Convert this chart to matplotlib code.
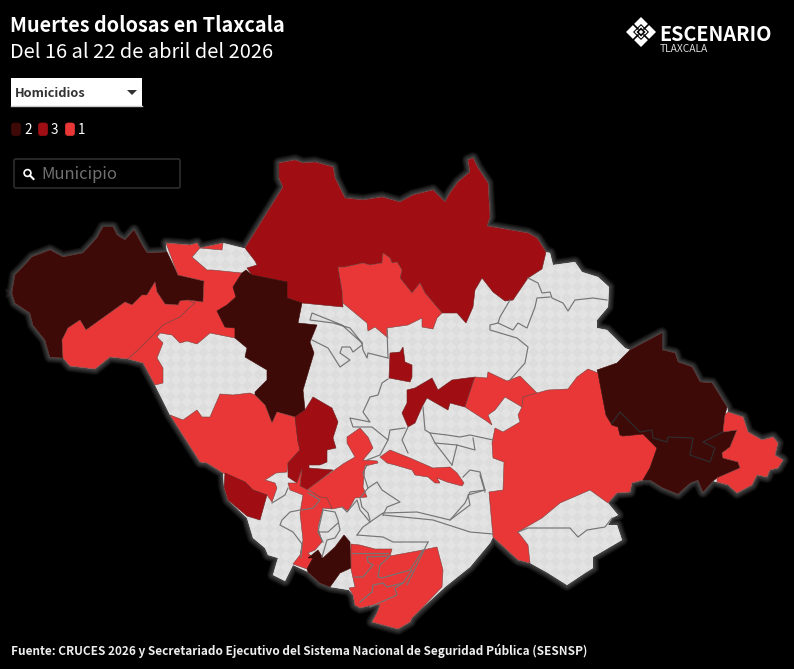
import matplotlib
matplotlib.use("Agg")
import matplotlib.pyplot as plt
import numpy as np
from matplotlib.patches import Polygon, Rectangle, FancyBboxPatch, Circle

plt.rcParams['font.family'] = ['Noto Sans CJK SC', 'DejaVu Sans']

# legend
legend_labels = ["2", "3", "1"]
legend_colors = ["#3d0a08", "#a00e14", "#e83736"]
color_by_class = dict(zip(legend_labels, legend_colors))
edge_by_class = {"2": "#3d0a08", "3": "#6b2020", "1": "#7a4040"}

# outlines, in picture pixels
state_outline = [(12,293),(15,275),(23,267),(32,257),(50,250),(63,257),(83,253),(97,238),(103,227),(113,227),
    (117,235),(125,240),(134,230),(142,245),(147,253),(167,252),(166,243),(190,245),(197,243),(200,248),(223,243),
    (243,248),(245,248),(283,187),(279,178),(279,163),(295,160),(303,163),(315,162),(333,167),(335,178),(345,198),
    (363,200),(382,197),(400,202),(413,195),(433,190),(445,202),(450,193),(458,182),(470,172),(468,160),(473,158),
    (478,168),(488,183),(490,217),(487,226),(528,233),(537,238),(546,252),(550,253),(553,265),(575,262),(582,272),
    (598,277),(609,287),(608,307),(597,320),(597,328),(607,330),(625,348),(630,350),(662,333),(662,350),(675,353),
    (678,362),(692,367),(700,382),(712,383),(727,407),(728,412),(743,417),(748,432),(762,440),(773,437),(778,443),
    (775,455),(783,460),(778,468),(770,470),(767,477),(757,475),(752,485),(737,493),(728,485),(717,482),(713,481),
    (703,492),(698,480),(690,483),(678,494),(663,488),(650,480),(643,480),(632,483),(630,492),(617,493),(608,503),
    (618,515),(612,518),(608,525),(617,525),(622,540),(593,557),(593,568),(585,573),(567,585),(548,573),(530,563),
    (518,560),(493,537),(490,543),(470,567),(445,587),(420,610),(412,618),(410,622),(398,629),(372,622),(377,613),
    (380,605),(373,605),(360,608),(355,605),(353,595),(349,590),(330,587),(320,583),(308,572),(293,565),(285,581),
    (273,575),(278,558),(268,555),(265,548),(253,538),(247,518),(228,500),(224,487),(223,473),(207,463),(200,462),
    (170,415),(155,385),(143,363),(128,359),(110,357),(95,369),(70,366),(63,358),(50,357),(45,340),(33,325),(30,313),
    (15,303)]

muni_nw = [(12,293),(15,275),(23,267),(32,257),(50,250),(63,257),(83,253),(97,238),(103,227),(113,227),(117,235),
    (125,240),(134,230),(142,245),(147,253),(167,252),(178,275),(204,281),(203,302),(188,300),(180,301),(178,305),
    (165,304),(157,292),(155,282),(147,295),(142,295),(132,305),(125,302),(86,330),(80,320),(68,328),(62,340),
    (63,358),(50,357),(45,340),(33,325),(30,313),(15,303)]
muni_w_strip = [(62,340),(68,328),(80,320),(86,330),(125,302),(132,305),(142,295),(147,295),(155,282),(157,292),
    (165,304),(178,305),(180,301),(188,300),(195,303),(187,310),(180,317),(163,325),(148,340),(138,350),(128,359),
    (110,357),(95,369),(70,366),(63,358)]
muni_c = [(166,243),(190,245),(197,243),(200,248),(223,243),(222,250),(200,248),(192,257),(207,270),(212,270),
    (242,273),(233,287),(236,297),(227,305),(217,311),(225,327),(235,328),(235,338),(210,333),(197,344),(187,341),
    (180,343),(172,335),(160,333),(157,337),(163,343),(157,358),(163,368),(163,383),(155,385),(143,363),(128,359),
    (138,350),(148,340),(163,325),(180,317),(187,310),(195,303),(188,300),(203,302),(204,281),(178,275)]
muni_north = [(245,248),(283,187),(279,178),(279,163),(295,160),(303,163),(315,162),(333,167),(335,178),(345,198),
    (363,200),(382,197),(400,202),(413,195),(433,190),(445,202),(450,193),(458,182),(470,172),(468,160),(473,158),
    (478,168),(488,183),(490,217),(487,226),(528,233),(537,238),(546,252),(542,269),(528,278),(513,300),(505,301),
    (493,292),(482,278),(475,290),(473,307),(466,323),(457,313),(442,313),(425,293),(420,283),(412,293),(400,278),
    (402,270),(397,262),(392,263),(390,258),(383,253),(382,263),(370,265),(363,263),(345,267),(338,267),(342,290),
    (343,307),(302,303),(287,298),(287,282),(252,275),(247,268),(257,265),(255,261)]
muni_f = [(338,267),(345,267),(363,263),(370,265),(382,263),(383,253),(390,258),(392,263),(397,262),(402,270),
    (400,278),(412,293),(420,283),(425,293),(442,313),(437,318),(433,329),(422,327),(422,318),(408,325),(387,328),
    (388,338),(375,327),(368,331),(367,323),(343,303),(342,290)]
muni_g = [(246,270),(252,275),(287,282),(287,298),(302,303),(298,323),(317,325),(310,342),(314,353),(303,390),
    (305,410),(295,417),(277,412),(272,423),(265,405),(255,395),(255,392),(267,380),(267,370),(245,357),(247,348),
    (235,338),(235,328),(225,327),(217,311),(227,305),(236,297),(233,287),(242,273)]
muni_h = [(170,415),(183,420),(197,410),(202,417),(210,417),(220,394),(233,395),(250,393),(255,395),(265,405),
    (272,423),(277,412),(295,417),(298,442),(300,450),(288,463),(287,472),(276,473),(265,480),(275,483),(277,488),
    (272,502),(267,495),(253,490),(245,482),(223,473),(207,463),(200,462)]
muni_i = [(225,473),(245,482),(253,490),(267,495),(260,520),(247,516),(228,500),(224,487)]
muni_j = [(313,397),(332,408),(338,422),(333,438),(336,448),(327,450),(327,462),(320,465),(309,465),(309,468),
    (333,470),(307,490),(300,486),(302,469),(297,483),(288,477),(288,463),(300,450),(298,442),(295,417),(305,410)]
muni_l = [(347,437),(360,428),(368,437),(373,448),(363,460),(377,461),(378,463),(365,466),(363,487),(367,497),
    (355,498),(348,511),(342,507),(332,509),(327,498),(320,497),(308,489),(343,464),(355,457),(347,443)]
muni_m = [(288,483),(297,483),(302,469),(300,486),(308,490),(320,497),(327,498),(332,509),(323,508),(318,527),
    (322,542),(315,550),(308,553),(313,558),(307,569),(293,564),(300,555),(303,540),(300,513),(303,495),(290,490)]
muni_n = [(344,535),(350,542),(351,568),(340,573),(330,587),(320,583),(308,572),(307,569),(313,558),(308,558),
    (318,550),(323,558),(335,547)]
muni_o = [(351,544),(360,545),(375,549),(392,549),(390,556),(423,550),(437,547),(443,570),(442,587),(420,610),
    (412,618),(410,622),(398,629),(372,622),(377,613),(380,605),(373,605),(360,608),(355,605),(353,595),(349,588),
    (355,587),(351,569)]
muni_q = [(380,457),(390,450),(410,458),(433,468),(450,467),(457,473),(464,483),(462,486),(447,482),(437,478),
    (440,483),(435,483),(428,477),(415,475),(412,470),(395,465),(387,463)]
muni_t = [(390,353),(400,352),(403,347),(405,362),(412,365),(412,377),(410,382),(389,378)]
muni_v = [(407,390),(415,388),(432,378),(438,390),(452,380),(475,377),(465,407),(450,403),(448,410),(427,398),
    (422,407),(415,423),(408,427),(402,413),(407,403)]
muni_y1 = [(475,377),(487,378),(488,372),(507,381),(520,376),(537,393),(523,397),(522,407),(505,397),(495,410),
    (488,415),(492,425),(485,420),(465,407)]
muni_y2 = [(523,397),(537,393),(548,390),(568,389),(577,377),(588,369),(598,373),(606,415),(612,425),(618,427),
    (620,435),(623,436),(643,434),(657,448),(650,468),(643,480),(632,483),(630,492),(617,493),(608,503),(590,490),
    (560,503),(542,518),(530,525),(518,532),(528,545),(530,563),(518,560),(493,537),(489,492),(503,490),(504,462),
    (493,458),(492,443),(495,428),(503,432),(520,422),(518,415),(522,407)]
muni_z = [(597,370),(617,363),(630,350),(662,333),(662,350),(675,353),(678,362),(692,367),(700,382),(712,383),
    (727,407),(725,415),(723,432),(737,430),(730,447),(722,453),(723,458),(738,462),(740,468),(717,478),(713,481),
    (703,492),(698,480),(690,483),(678,494),(663,488),(650,480),(643,480),(650,468),(657,448),(643,434),(623,436),
    (620,435),(618,427),(612,425),(606,415),(598,373)]
muni_tip = [(725,415),(728,412),(743,417),(748,432),(762,440),(773,437),(778,443),(775,455),(783,460),(778,468),
    (770,470),(767,477),(757,475),(752,485),(737,493),(728,485),(717,482),(717,478),(740,468),(738,462),(723,458),
    (722,453),(730,447),(737,430),(723,432)]

homicide_munis = [
    ("2", muni_nw), ("1", muni_w_strip), ("1", muni_c), ("3", muni_north), ("1", muni_f), ("2", muni_g),
    ("1", muni_h), ("3", muni_i), ("3", muni_j), ("1", muni_l), ("1", muni_m), ("2", muni_n), ("1", muni_o),
    ("1", muni_q), ("3", muni_t), ("3", muni_v), ("1", muni_y1), ("1", muni_y2), ("2", muni_z), ("1", muni_tip),
]

# borders between municipalities
border_lines = [
    [(272,503),(285,495),(288,488)],
    [(302,544),(293,532),(280,525),(282,520),(290,512),(300,510)],
    [(301,557),(302,544)],
    [(323,510),(335,512),(338,520),(340,530),(335,538),(327,540),(322,557)],
    [(323,510),(318,532),(323,542)],
    [(318,532),(328,532),(338,523)],
    [(342,507),(347,512),(357,500),(360,510),(370,522),(383,513),(417,512),(450,520),(470,505),(468,495),(485,490),(480,472),(470,470),(463,477)],
    [(383,515),(433,520),(470,532),(493,534)],
    [(357,535),(383,537),(393,542),(428,542)],
    [(357,535),(363,527),(370,522)],
    [(367,465),(363,473),(368,488),(360,498),(362,507),(368,513),(370,520)],
    [(368,488),(377,482),(382,490),(400,502),(387,507),(383,515)],
    [(485,490),(470,492),(465,503),(450,520)],
    [(518,532),(528,528),(545,528),(570,528),(578,537),(587,530),(605,527),(612,518)],
    [(528,278),(538,283),(542,293),(550,292),(552,298),(563,303),(568,311),(575,300),(593,298),(607,300)],
    [(550,297),(537,298),(535,307),(527,328),(518,323),(513,330),(498,323),(490,325),(490,330),(517,338),(528,347),(525,363),(510,380)],
    [(510,300),(500,317),(498,323)],
    [(388,358),(387,330)],
    [(388,358),(368,353),(367,358),(363,350),(362,343),(350,328),(333,323),(310,320),(312,313),(342,325),(362,343)],
    [(312,340),(328,348),(340,367),(350,360),(340,353),(342,347),(350,347),(353,352),(362,345)],
    [(388,379),(382,383),(378,395),(370,397),(363,412),(370,422),(350,418),(353,427),(372,427),(388,440),(390,430),(405,428)],
    [(408,453),(402,440),(408,427)],
    [(367,460),(380,455),(388,440)],
    [(423,407),(425,430),(430,433),(447,435),(460,437),(470,435),(493,440)],
    [(430,433),(435,443),(452,465)],
    [(435,443),(457,445),(452,465)],
    [(457,445),(475,450),(473,438)],
    [(480,475),(485,492)],
    [(302,510),(313,508),(320,500),(308,493)],
    # south group
    [(352,553),(368,553),(388,553)],
    [(367,557),(368,562),(373,565),(363,577),(355,577)],
    [(367,557),(390,556),(380,565),(378,577),(382,578),(410,570),(423,550)],
    [(360,602),(372,592),(373,585),(383,583),(387,587),(403,583),(412,570)],
    [(403,583),(395,588),(397,595),(370,607)],
    [(428,542),(407,585)],
]
dark_lines = [
    [(612,423),(620,412),(640,432),(652,430),(653,438),(667,442),(668,437),(693,438),(690,455),(710,462),(715,448),(703,442),(717,435),(723,432)],
]

fig = plt.figure(figsize=(7.94, 6.69), dpi=100, facecolor="black")
ax = fig.add_axes([0, 0, 1, 1])
ax.set_xlim(0, 794)
ax.set_ylim(669, 0)
ax.axis("off")

# glow around the state
state_x, state_y = zip(*(state_outline + state_outline[:1]))
for lw in [12, 10, 8, 6, 4, 2.5]:
    ax.plot(state_x, state_y, color="white", lw=lw * 0.72, alpha=0.05, solid_joinstyle="round", zorder=1)

# no-data pattern
xx, yy = np.meshgrid(np.arange(794), np.arange(669))
pattern = (((xx + yy) // 11 + (xx - yy) // 11) % 2) * 0.025 + 0.865
state_patch = Polygon(state_outline, closed=True, fc="#dedede", ec="none", zorder=2)
ax.add_patch(state_patch)
img = ax.imshow(pattern, cmap="gray", vmin=0, vmax=1, extent=(0, 794, 669, 0), zorder=3, aspect="auto")
img.set_clip_path(state_patch)
ax.set_xlim(0, 794)
ax.set_ylim(669, 0)

for cls, outline in homicide_munis:
    ax.add_patch(Polygon(outline, closed=True, fc=color_by_class[cls], ec=edge_by_class[cls], lw=0.4, zorder=4))
for line in border_lines:
    lx, ly = zip(*line)
    ax.plot(lx, ly, color="#757575", lw=0.85, zorder=5)
for line in dark_lines:
    lx, ly = zip(*line)
    ax.plot(lx, ly, color="#2e2e2e", lw=0.85, zorder=5)

# header
ax.text(10.5, 32, "Muertes dolosas en Tlaxcala", color="white", fontsize=14.3, fontweight="bold")
ax.text(10.5, 58, "Del 16 al 22 de abril del 2026", color="white", fontsize=14.4)

# dropdown
ax.add_patch(Rectangle((11, 78), 131, 28, fc="white", ec="none"))
ax.plot([11, 142], [105.5, 105.5], color="#cccccc", lw=1)
ax.text(15, 97, "Homicidios", color="#333333", fontsize=9.2, fontweight="bold")
ax.add_patch(Polygon([(127, 90), (137, 90), (132, 95)], closed=True, fc="#333333", ec="none"))

# legend
for x0, lab, col in zip([11, 38, 65], legend_labels, legend_colors):
    ax.add_patch(FancyBboxPatch((x0 + 0.5, 123), 9, 12.5, boxstyle="round,pad=0,rounding_size=2.5", fc=col, ec=col, lw=0.5))
    ax.text(x0 + 13, 134, lab, color="white", fontsize=9.7)

# search box
ax.add_patch(FancyBboxPatch((14, 159), 166, 29, boxstyle="round,pad=0,rounding_size=2", fc="black", ec="#2a2a2a", lw=1.3))
ax.add_patch(Circle((27.5, 173), 3.4, fc="none", ec="white", lw=1.2))
ax.plot([30, 33.5], [175.5, 179], color="white", lw=1.5)
ax.text(41.5, 179, "Municipio", color="#707070", fontsize=12)

# logo
logo_cx, logo_cy = 641, 32
def logo_diamond(r, fc, ec="none", lw=0):
    ax.add_patch(Polygon([(logo_cx - r, logo_cy), (logo_cx, logo_cy - r), (logo_cx + r, logo_cy), (logo_cx, logo_cy + r)],
                         closed=True, fc=fc, ec=ec, lw=lw))
logo_diamond(15, "white")
for d in [(-1, -1), (1, -1), (-1, 1), (1, 1)]:
    ax.plot([logo_cx + d[0] * 3, logo_cx + d[0] * 8], [logo_cy + d[1] * 3, logo_cy + d[1] * 8], color="black", lw=1.2)
logo_diamond(8, "black")
logo_diamond(6.5, "white")
logo_diamond(4.5, "black")
logo_diamond(2.2, "white")
ax.text(659, 41, "ESCENARIO", color="white", fontsize=14.3, fontweight="bold")
ax.text(660, 52.5, "TLAXCALA", color="#dddddd", fontsize=7.4)

# source
ax.text(11, 655, "Fuente: CRUCES 2026 y Secretariado Ejecutivo del Sistema Nacional de Seguridad Pública (SESNSP)",
        color="#eeeeee", fontsize=8.53, fontweight="bold")

fig.savefig("out.png", dpi=100, facecolor="black")
